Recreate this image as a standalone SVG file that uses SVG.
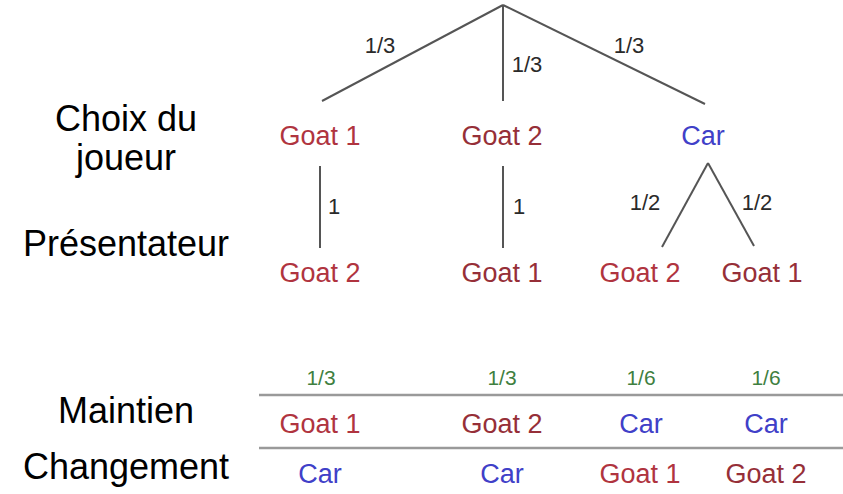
<svg xmlns="http://www.w3.org/2000/svg" width="843" height="494" viewBox="0 0 843 494">
<style>
text{font-family:"Liberation Sans",Arial,sans-serif;text-anchor:middle}
.lbl{font-size:36px;fill:#000}
.node{font-size:27px}
.g{fill:#b0343f}
.g2{fill:#962f38}
.c{fill:#4040c8}
.p{font-size:22px;fill:#2a2a2a}
.pg{font-size:21px;fill:#3f7f3f}
.edge{stroke:#555;stroke-width:2;fill:none}
.sep{stroke:#9a9a9a;stroke-width:2.5}
</style>
<rect width="843" height="494" fill="#fff"/>
<g id="labels">
<text class="lbl" x="126" y="131">Choix du</text>
<text class="lbl" x="126" y="170">joueur</text>
<text class="lbl" x="126" y="256">Présentateur</text>
<text class="lbl" x="126" y="423">Maintien</text>
<text class="lbl" x="126" y="479">Changement</text>
</g>
<g id="connectors">
<line class="edge" x1="503" y1="5" x2="322" y2="101"/>
<line class="edge" x1="503" y1="5" x2="503" y2="101"/>
<line class="edge" x1="503" y1="5" x2="705" y2="104"/>
<line class="edge" x1="320" y1="166" x2="320" y2="248"/>
<line class="edge" x1="503" y1="166" x2="503" y2="248"/>
<line class="edge" x1="708" y1="163" x2="662" y2="247"/>
<line class="edge" x1="708" y1="163" x2="754" y2="246"/>
<text class="p" x="380" y="53">1/3</text>
<text class="p" x="527" y="72">1/3</text>
<text class="p" x="629" y="53">1/3</text>
<text class="p" x="334" y="214">1</text>
<text class="p" x="519" y="214">1</text>
<text class="p" x="645" y="210">1/2</text>
<text class="p" x="757" y="210">1/2</text>
</g>
<g id="n-goat1"><text class="node g" x="320" y="145">Goat 1</text></g>
<g id="n-goat2"><text class="node g2" x="502" y="145">Goat 2</text></g>
<g id="n-car"><text class="node c" x="703" y="145">Car</text></g>
<g id="n-h1"><text class="node g" x="320" y="282">Goat 2</text></g>
<g id="n-h2"><text class="node g2" x="502" y="282">Goat 1</text></g>
<g id="n-h3"><text class="node g" x="640" y="282">Goat 2</text></g>
<g id="n-h4"><text class="node g2" x="762" y="282">Goat 1</text></g>
<g id="table">
<text class="pg" x="321" y="385">1/3</text>
<text class="pg" x="502" y="385">1/3</text>
<text class="pg" x="641" y="385">1/6</text>
<text class="pg" x="766" y="385">1/6</text>
<line class="sep" x1="259" y1="395" x2="843" y2="395"/>
<text class="node g" x="320" y="433">Goat 1</text>
<text class="node g2" x="502" y="433">Goat 2</text>
<text class="node c" x="641" y="433">Car</text>
<text class="node c" x="766" y="433">Car</text>
<line class="sep" x1="259" y1="448" x2="843" y2="448"/>
<text class="node c" x="320" y="483">Car</text>
<text class="node c" x="502" y="483">Car</text>
<text class="node g" x="640" y="483">Goat 1</text>
<text class="node g2" x="766" y="483">Goat 2</text>
</g>
</svg>
